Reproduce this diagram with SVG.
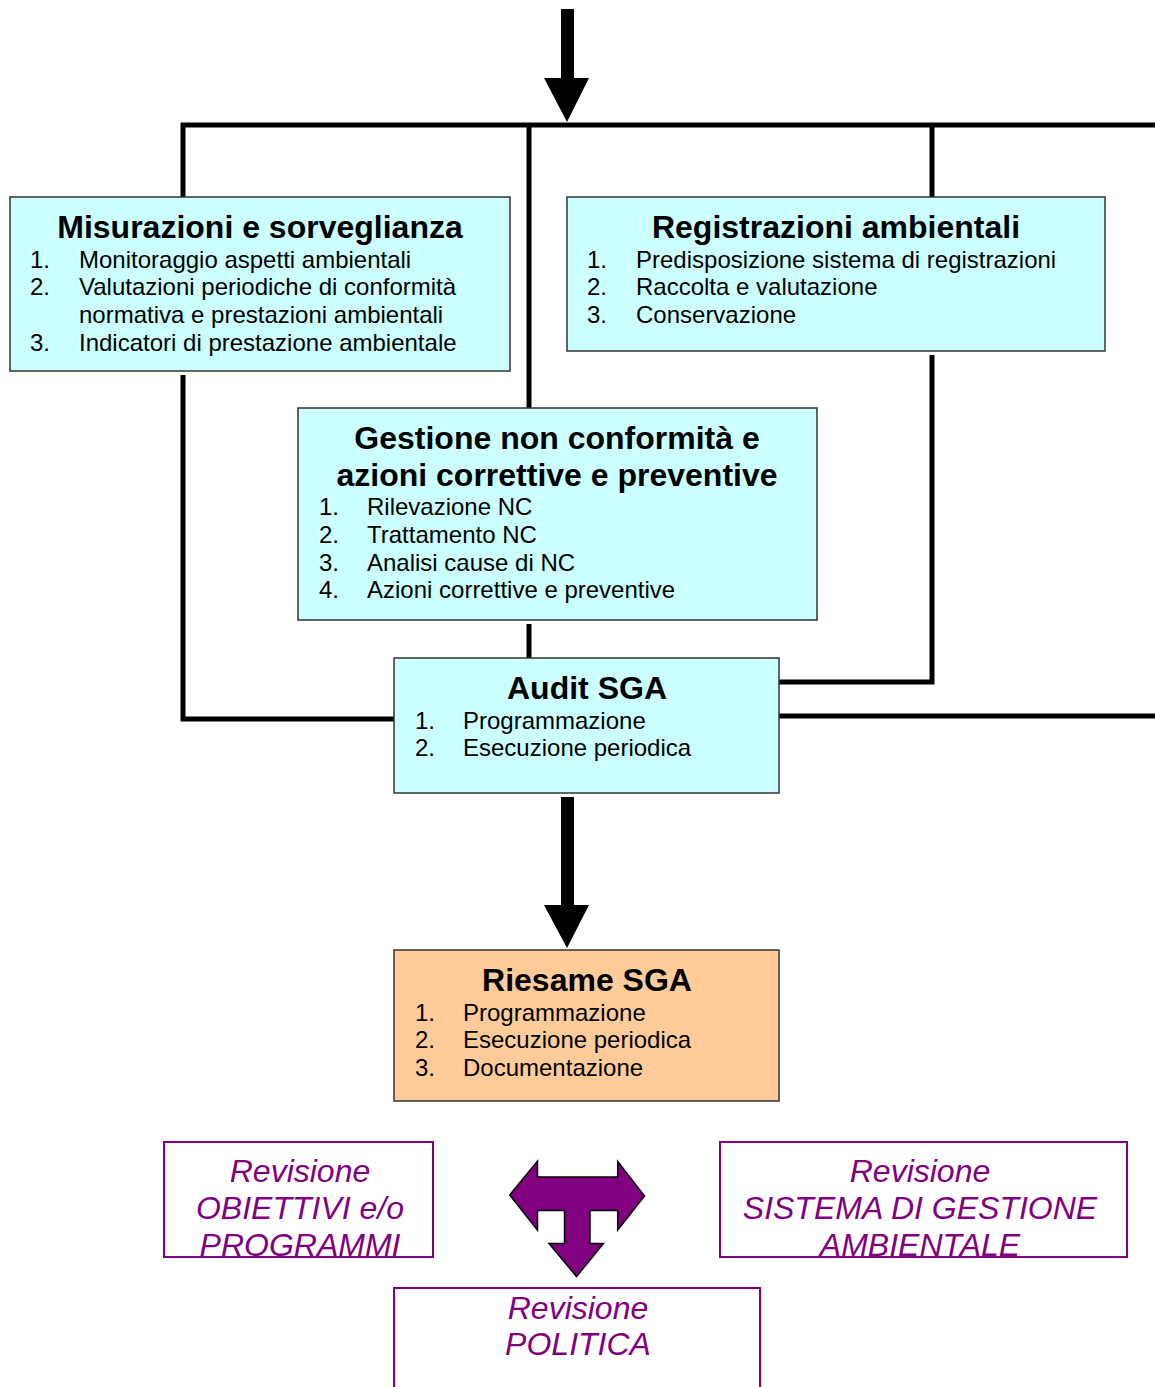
<svg xmlns="http://www.w3.org/2000/svg" width="1155" height="1387" viewBox="0 0 1155 1387">
<style>
.box{fill:#CCFFFF;stroke:#333;stroke-width:1.5}
.rie{fill:#FFCC99;stroke:#333;stroke-width:1.5}
.rev{fill:#fff;stroke:#800080;stroke-width:2}
.ln{stroke:#000;stroke-width:5;fill:none}
.t{font-family:"Liberation Sans",Arial,sans-serif;font-weight:bold;font-size:32px;fill:#000;text-anchor:middle}
.i{font-family:"Liberation Sans",Arial,sans-serif;font-size:24px;fill:#000}
.r{font-family:"Liberation Sans",Arial,sans-serif;font-style:italic;font-size:32px;fill:#800080;text-anchor:middle}
</style>
<rect width="1155" height="1387" fill="#fff"/>
<g id="connectors">
<polygon points="561,9 574,9 574,78 589,78 567,122 544,78 561,78" fill="#000"/>
<path class="ln" d="M181,125 H1155"/>
<path class="ln" d="M183,123 V199"/>
<path class="ln" d="M183,375 V719 H394"/>
<path class="ln" d="M529,123 V408"/>
<path class="ln" d="M529,624 V658"/>
<path class="ln" d="M932,123 V199"/>
<path class="ln" d="M932,355 V682 H779"/>
<path class="ln" d="M779,716 H1155"/>
<polygon points="561,797 574,797 574,905 589,905 567,948 544,905 561,905" fill="#000"/>
<polygon points="509.7,1195 537.5,1161 537.5,1177 617.7,1177 617.7,1161.5 644.5,1196 617.7,1230 617.7,1210.5 590,1210.5 590,1243.5 603.5,1243.5 576.5,1276.5 549,1243.5 564.5,1243.5 564.5,1210.5 537.5,1210.5 537.5,1230" fill="#800080" stroke="#000" stroke-width="1.5" stroke-linejoin="miter"/>
</g>
<g id="misurazioni">
<rect class="box" x="10" y="197" width="500" height="174"/>
<text class="t" x="260" y="238">Misurazioni e sorveglianza</text>
<text class="i" x="30" y="268">1.</text><text class="i" x="79" y="268">Monitoraggio aspetti ambientali</text>
<text class="i" x="30" y="295">2.</text><text class="i" x="79" y="295">Valutazioni periodiche di conformità</text>
<text class="i" x="79" y="323">normativa e prestazioni ambientali</text>
<text class="i" x="30" y="351">3.</text><text class="i" x="79" y="351">Indicatori di prestazione ambientale</text>
</g>
<g id="registrazioni">
<rect class="box" x="567" y="197" width="538" height="154"/>
<text class="t" x="836" y="238">Registrazioni ambientali</text>
<text class="i" x="587" y="268">1.</text><text class="i" x="636" y="268">Predisposizione sistema di registrazioni</text>
<text class="i" x="587" y="295">2.</text><text class="i" x="636" y="295">Raccolta e valutazione</text>
<text class="i" x="587" y="323">3.</text><text class="i" x="636" y="323">Conservazione</text>
</g>
<g id="gestione">
<rect class="box" x="298" y="408" width="519" height="212"/>
<text class="t" x="557" y="449">Gestione non conformità e</text>
<text class="t" x="557" y="486">azioni correttive e preventive</text>
<text class="i" x="319" y="515">1.</text><text class="i" x="367" y="515">Rilevazione NC</text>
<text class="i" x="319" y="543">2.</text><text class="i" x="367" y="543">Trattamento NC</text>
<text class="i" x="319" y="571">3.</text><text class="i" x="367" y="571">Analisi cause di NC</text>
<text class="i" x="319" y="598">4.</text><text class="i" x="367" y="598">Azioni correttive e preventive</text>
</g>
<g id="audit">
<rect class="box" x="394" y="658" width="385" height="135"/>
<text class="t" x="587" y="699">Audit SGA</text>
<text class="i" x="415" y="729">1.</text><text class="i" x="463" y="729">Programmazione</text>
<text class="i" x="415" y="756">2.</text><text class="i" x="463" y="756">Esecuzione periodica</text>
</g>
<g id="riesame">
<rect class="rie" x="394" y="950" width="385" height="151"/>
<text class="t" x="587" y="991">Riesame SGA</text>
<text class="i" x="415" y="1021">1.</text><text class="i" x="463" y="1021">Programmazione</text>
<text class="i" x="415" y="1048">2.</text><text class="i" x="463" y="1048">Esecuzione periodica</text>
<text class="i" x="415" y="1076">3.</text><text class="i" x="463" y="1076">Documentazione</text>
</g>
<g id="rev-obiettivi">
<rect class="rev" x="164" y="1142" width="269" height="115"/>
<text class="r" x="300" y="1182">Revisione</text>
<text class="r" x="300" y="1219">OBIETTIVI e/o</text>
<text class="r" x="300" y="1256">PROGRAMMI</text>
</g>
<g id="rev-sistema">
<rect class="rev" x="720" y="1142" width="407" height="115"/>
<text class="r" x="920" y="1182">Revisione</text>
<text class="r" x="920" y="1219">SISTEMA DI GESTIONE</text>
<text class="r" x="920" y="1256">AMBIENTALE</text>
</g>
<g id="rev-politica">
<rect class="rev" x="394" y="1288" width="366" height="110"/>
<text class="r" x="578" y="1319">Revisione</text>
<text class="r" x="578" y="1355">POLITICA</text>
</g>
</svg>
